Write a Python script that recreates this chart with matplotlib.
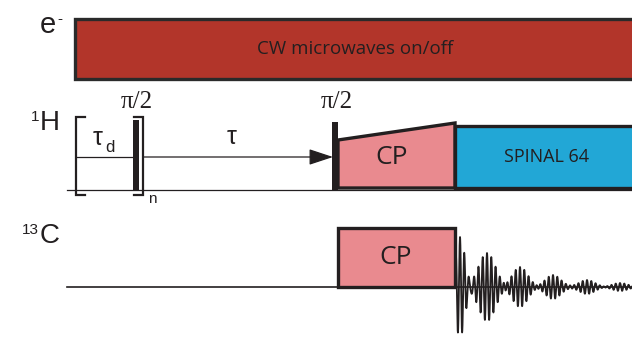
import numpy as np
import matplotlib.pyplot as plt
from matplotlib.patches import Rectangle, Polygon

# labels
channel_labels = ["e", "H", "C"]
channel_sup = ["-", "1", "13"]
mw_text = "CW microwaves on/off"
cp_text = "CP"
dec_text = "SPINAL 64"
pulse_text = r"π/2"

# FID echo bursts (centre px, amplitude px, width px)
fid_centres = [460, 487, 520, 553, 587, 620]
fid_amps = [50, 34, 20, 12, 7, 4]
fid_widths = [7, 12, 11, 11, 11, 11]

ink = "#231f20"
red = "#b2352a"
pink = "#e98a8f"
blue = "#22a7d6"
sans = ["Open Sans", "DejaVu Sans"]
arial = ["Liberation Sans", "DejaVu Sans"]
serif = ["Liberation Serif", "DejaVu Serif"]

fig = plt.figure(figsize=(6.32, 3.37), dpi=100)
ax = fig.add_axes([0, 0, 1, 1])
ax.set_xlim(0, 632)
ax.set_ylim(337, 0)
ax.axis("off")

# channel labels
ax.text(40, 25, channel_labels[0], family=arial, fontsize=21, color=ink, ha="left", va="center")
ax.text(57, 19, channel_sup[0], family=arial, fontsize=11, color=ink, ha="left", va="center")
ax.text(40, 123, channel_labels[1], family=arial, fontsize=20, color=ink, ha="left", va="center")
ax.text(31, 117, channel_sup[1], family=arial, fontsize=11, color=ink, ha="left", va="center")
ax.text(40, 236, channel_labels[2], family=arial, fontsize=20, color=ink, ha="left", va="center")
ax.text(22, 230, channel_sup[2], family=arial, fontsize=11, color=ink, ha="left", va="center")

# e- channel
ax.add_patch(Rectangle((75, 19), 600, 60, facecolor=red, edgecolor="#2a2a2a", lw=2.4))
ax.text(355, 49, mw_text, family=sans, fontsize=13.5, color=ink, ha="center", va="center")

# 1H channel
ax.plot([67, 632], [190, 190], color=ink, lw=0.9)
# bracketed repetition block
ax.plot([85, 76, 76, 85], [117, 117, 195, 195], color=ink, lw=1.6, solid_joinstyle="miter")
ax.plot([134, 143, 143, 134], [117, 117, 195, 195], color=ink, lw=1.6, solid_joinstyle="miter")
ax.plot([76, 133], [157, 157], color=ink, lw=0.9)
ax.add_patch(Rectangle((133, 120), 6, 70, facecolor=ink, edgecolor="none"))
ax.text(98, 138, "τ", family=arial, fontsize=18, color=ink, ha="center", va="center")
ax.text(110, 148, "d", family=arial, fontsize=12, color=ink, ha="center", va="center")
ax.text(152, 199, "n", family=arial, fontsize=11, color=ink, ha="center", va="center")
ax.text(137, 102, pulse_text, family=serif, fontsize=18, color=ink, ha="center", va="center")

# tau delay arrow
ax.annotate("", xy=(333, 157), xytext=(143, 157),
            arrowprops=dict(arrowstyle="-|>,head_length=1.0,head_width=0.33",
                            color=ink, lw=0.9, mutation_scale=15, shrinkA=0, shrinkB=0))
ax.text(232, 137, "τ", family=arial, fontsize=18, color=ink, ha="center", va="center")

# second pi/2 pulse, CP ramp and decoupling
ax.text(337, 102, pulse_text, family=serif, fontsize=18, color=ink, ha="center", va="center")
ax.add_patch(Polygon([(338, 188), (338, 140), (455, 123), (455, 188)], closed=True,
                     facecolor=pink, edgecolor=ink, lw=2.4, joinstyle="miter"))
ax.add_patch(Rectangle((455, 126), 220, 62, facecolor=blue, edgecolor=ink, lw=2.4))
ax.add_patch(Rectangle((332, 122), 6, 68, facecolor=ink, edgecolor="none"))
ax.text(392, 158, cp_text, family=sans, fontsize=19, color=ink, ha="center", va="center")
ax.text(547, 157, dec_text, family=sans, fontsize=13, color=ink, ha="center", va="center")

# 13C channel
ax.plot([67, 632], [287, 287], color=ink, lw=1.2)
ax.add_patch(Rectangle((338, 228), 117, 59, facecolor=pink, edgecolor=ink, lw=2.4))
ax.text(396, 257, cp_text, family=sans, fontsize=19, color=ink, ha="center", va="center")

# FID
xs = np.linspace(456, 632, 4000)
sig = np.zeros_like(xs)
for c, a, w in zip(fid_centres, fid_amps, fid_widths):
    sig += a * np.exp(-((xs - c) / w) ** 2) * np.cos(2 * np.pi * (xs - c) / 4.3)
ax.plot(xs, 287 - sig, color=ink, lw=1.3)

fig.savefig("out.png", dpi=100)
